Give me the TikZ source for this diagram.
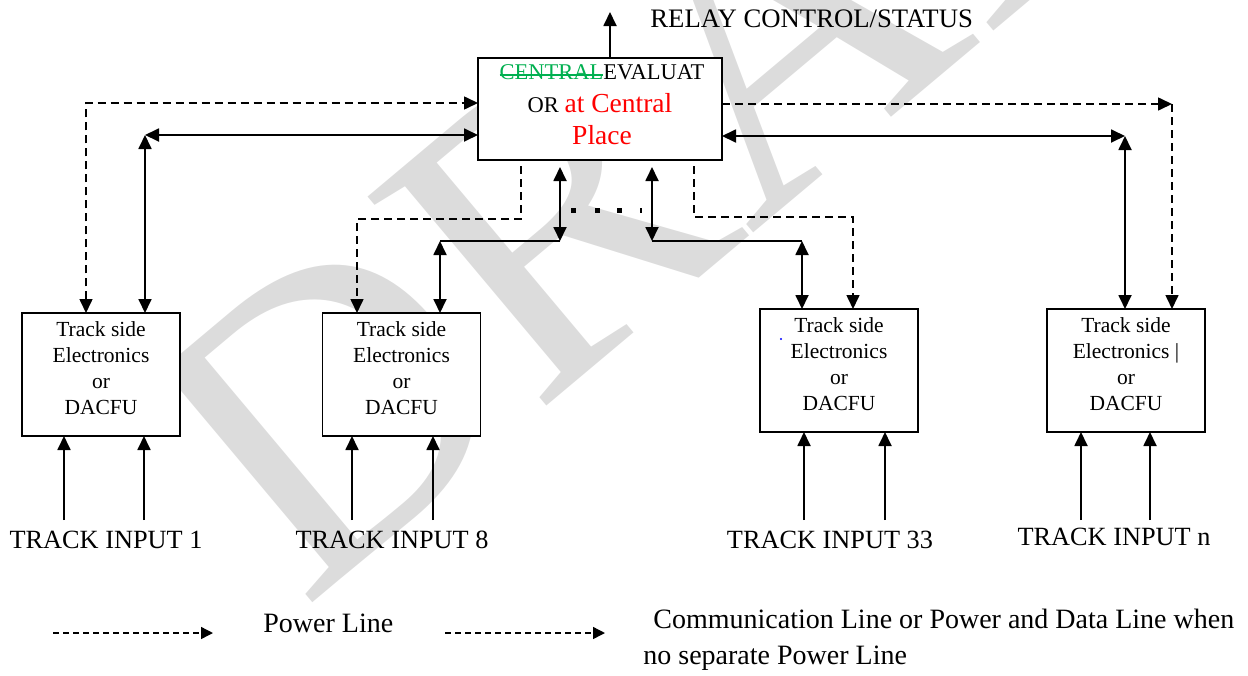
\documentclass[tikz,border=0pt]{standalone}
\usepackage{fontspec}
\setmainfont{Liberation Serif}
\usetikzlibrary{arrows.meta}
\definecolor{strikegreen}{HTML}{00B050}
\definecolor{wmgray}{HTML}{DCDCDC}
\newsavebox\strikebox
\newcommand\struckword[1]{\sbox\strikebox{#1}\rlap{\usebox\strikebox}\rule[0.33ex]{\wd\strikebox}{0.06em}}
\begin{document}
\begin{tikzpicture}[x=0.5pt,y=-0.5pt,
  >={Triangle[length=7pt,width=6.5pt]},
  box/.style={draw,fill=white,line width=0.9pt,inner sep=0pt,outer sep=0pt},
  tsbox/.style={box,minimum width=79pt,minimum height=61.5pt},
  tstext/.style={anchor=north,inner sep=0pt,align=center,font=\fontsize{10.75}{13}\selectfont},
  ctext/.style={anchor=base,inner sep=0pt,font=\fontsize{11.25}{14}\selectfont},
  solidlink/.style={line width=0.9pt},
  powerlink/.style={line width=0.8pt,dash pattern=on 4pt off 2.5pt},
  inlabel/.style={anchor=base,inner sep=0pt,font=\fontsize{13.15}{16}\selectfont},
  legendlink/.style={line width=0.7pt,dash pattern=on 3pt off 2pt,-{Triangle[length=6pt,width=6pt]}},
  legendtext/.style={anchor=base west,inner sep=0pt,font=\fontsize{14}{17}\selectfont}
]
\useasboundingbox (0,0) rectangle (1248,675);

% background watermark
\node[rotate=40,text=wmgray,inner sep=0pt,font=\fontsize{210}{210}\selectfont] (wm) at (742,62) {DRAFT};

% central evaluator
\node[box,minimum width=122pt,minimum height=51pt] (C) at (600,109) {};
\node[ctext] (C1) at (602,79) {\textcolor{strikegreen}{\struckword{CENTRAL}}EVALUAT};
\node[ctext] (C2) at (600,112) {OR \textcolor{red}{\fontsize{13.75}{16}\selectfont at Central}};
\node[ctext,text=red,font=\fontsize{13.75}{16}\selectfont] (C3) at (602,144) {Place};

% relay output
\coordinate (relayend) at (610,12);
\draw[solidlink,->] (C.north -| relayend) -- (relayend);
\node[anchor=base west,inner sep=0pt,font=\fontsize{13.35}{16}\selectfont] (relay) at (650,27) {RELAY CONTROL/STATUS};

% track side units
\node[tsbox] (T1) at (101,374.5) {};
\node[tsbox] (T2) at (401.5,374.5) {};
\node[tsbox] (T3) at (839,370.5) {};
\node[tsbox] (T4) at (1126,370.5) {};
\node[tstext] (T1t) at ([yshift=-4.2pt]T1.north) {Track side\\Electronics\\or\\DACFU};
\node[tstext] (T2t) at ([yshift=-4.2pt]T2.north) {Track side\\Electronics\\or\\DACFU};
\node[tstext] (T3t) at ([yshift=-4.2pt]T3.north) {Track side\\Electronics\\or\\DACFU};
\node[tstext] (T4t) at ([yshift=-4.2pt]T4.north) {Track side\\Electronics \textbar\\or\\DACFU};
\fill[blue] (781,339) circle (1.2);

% unit 1 links
\coordinate (pwL) at (86,103);
\draw[powerlink,<->] (T1.north -| pwL) -- (pwL) -- (C.west |- pwL);
\coordinate (cmL) at (145,135);
\draw[solidlink,<->] (T1.north -| cmL) -- (cmL);
\draw[solidlink,<->] (cmL) -- (C.west |- cmL);

% unit 8 links
\coordinate (pwA) at (521,166);
\coordinate (pwB) at (521,219);
\coordinate (pwC) at (357,219);
\draw[powerlink,->] (pwA) -- (pwB) -- (pwC) -- (T2.north -| pwC);
\coordinate (cmA) at (560,167);
\coordinate (cmB) at (560,241);
\coordinate (cmC) at (440,241);
\draw[solidlink,<->] (cmA) -- (cmB);
\draw[solidlink] (cmB) -- (cmC);
\draw[solidlink,<->] (cmC) -- (T2.north -| cmC);

% continuation dots
\fill (570.5,207.5) rectangle +(5,5);
\fill (594.5,207.5) rectangle +(5,5);
\fill (616.5,207.5) rectangle +(5,5);
\fill (640,207.5) rectangle +(2,5);

% unit 33 links
\coordinate (cmD) at (652,167);
\coordinate (cmE) at (652,241);
\coordinate (cmF) at (802,241);
\draw[solidlink,<->] (cmD) -- (cmE);
\draw[solidlink] (cmE) -- (cmF);
\draw[solidlink,<->] (cmF) -- (T3.north -| cmF);
\coordinate (pwD) at (694,166);
\coordinate (pwE) at (694,217);
\coordinate (pwF) at (853,217);
\draw[powerlink,->] (pwD) -- (pwE) -- (pwF) -- (T3.north -| pwF);

% unit n links
\coordinate (pwR) at (1172,104);
\draw[powerlink,->] (C.east |- pwR) -- (pwR);
\draw[powerlink,->] (pwR) -- (T4.north -| pwR);
\coordinate (cmR) at (1125,136);
\draw[solidlink,<->] (C.east |- cmR) -- (cmR);
\draw[solidlink,<->] (cmR) -- (T4.north -| cmR);

% track inputs
\coordinate (i1a) at (64,520);
\coordinate (i1b) at (144,520);
\coordinate (i2a) at (352,520);
\coordinate (i2b) at (433,520);
\coordinate (i3a) at (804,520);
\coordinate (i3b) at (885,520);
\coordinate (i4a) at (1081,520);
\coordinate (i4b) at (1150,520);
\draw[solidlink,->] (i1a) -- (T1.south -| i1a);
\draw[solidlink,->] (i1b) -- (T1.south -| i1b);
\draw[solidlink,->] (i2a) -- (T2.south -| i2a);
\draw[solidlink,->] (i2b) -- (T2.south -| i2b);
\draw[solidlink,->] (i3a) -- (T3.south -| i3a);
\draw[solidlink,->] (i3b) -- (T3.south -| i3b);
\draw[solidlink,->] (i4a) -- (T4.south -| i4a);
\draw[solidlink,->] (i4b) -- (T4.south -| i4b);
\node[inlabel] (L1) at (106,548) {TRACK INPUT 1};
\node[inlabel] (L2) at (392,548) {TRACK INPUT 8};
\node[inlabel] (L3) at (830,548) {TRACK INPUT 33};
\node[inlabel] (L4) at (1114,545) {TRACK INPUT n};

% legend
\coordinate (lg1a) at (53,633);
\coordinate (lg1b) at (213,633);
\draw[legendlink] (lg1a) -- (lg1b);
\node[legendtext] (lgt1) at (263,632) {Power Line};
\coordinate (lg2a) at (445,633);
\coordinate (lg2b) at (605,633);
\draw[legendlink] (lg2a) -- (lg2b);
\node[legendtext] (lgt2) at (653,628) {Communication Line or Power and Data Line when};
\node[legendtext] (lgt3) at (643,664) {no separate Power Line};
\end{tikzpicture}
\end{document}
